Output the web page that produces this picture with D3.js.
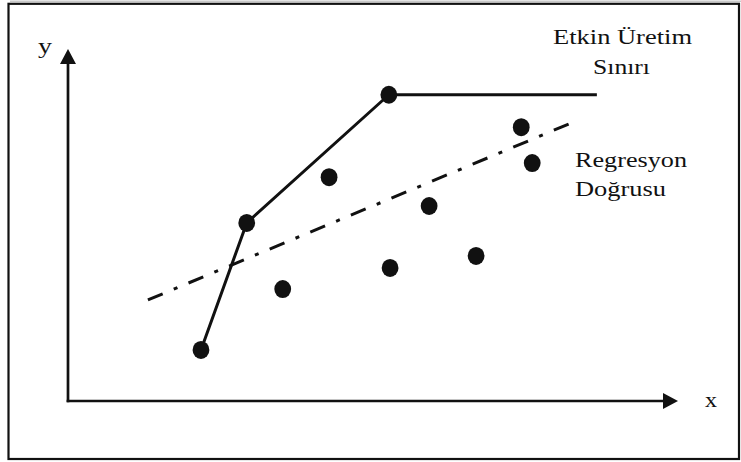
<!DOCTYPE html>
<html>
<head>
<meta charset="utf-8">
<script src="https://cdn.jsdelivr.net/npm/d3@7"></script>
<style>
  html, body { margin: 0; padding: 0; background: #fff; }
  svg { display: block; }
</style>
</head>
<body>
<svg id="chart" width="741" height="462"></svg>
<script>
// ---- data (abstract units, axes have no ticks) ----
const frontierX = [21.8, 29.3, 52.6, 86.7];
const frontierY = [14.5, 50.6, 87.0, 87.0];
const dotX = [21.8, 29.3, 52.6, 35.2, 42.8, 52.8, 59.2, 66.9, 74.3, 76.1];
const dotY = [14.5, 50.6, 87.0, 31.8, 63.6, 37.8, 55.4, 41.2, 77.8, 67.6];
const regressionX = [13.1, 82.1];
const regressionY = [28.7, 78.7];
const frontierLabel = ["Etkin Üretim", "Sınırı"];
const regressionLabel = ["Regresyon", "Doğrusu"];
const xAxisLabel = "x";
const yAxisLabel = "y";

// ---- layout ----
const svg = d3.select("#chart");
const x = d3.scaleLinear().domain([0, 100]).range([68, 678]);
const y = d3.scaleLinear().domain([0, 100]).range([401, 49]);
const serif = "'Liberation Serif', 'Times New Roman', serif";

svg.append("line").attr("x1", 10).attr("x2", 741).attr("y1", 1.2).attr("y2", 1.2)
  .attr("stroke", "#c8c8c8").attr("stroke-width", 1.5);
svg.append("rect").attr("x", 8.5).attr("y", 3.8).attr("width", 730.5).attr("height", 455.2)
  .attr("fill", "none").attr("stroke", "#111").attr("stroke-width", 2.2);

const axW = 2.7;
const gx = svg.append("g").attr("transform", `translate(0,${y(0)})`)
  .call(d3.axisBottom(x).tickValues([]).tickSizeOuter(0));
const gy = svg.append("g").attr("transform", `translate(${x(0)},0)`)
  .call(d3.axisLeft(y).tickValues([]).tickSizeOuter(0));
[gx, gy].forEach(g => g.select(".domain").attr("stroke", "#111").attr("stroke-width", axW));
gx.select(".domain").attr("d", `M${x(0) - axW/2},0H${x(100) - 6}`);
gy.select(".domain").attr("d", `M0,${y(0) + axW/2}V${y(100) + 6}`);

const ah = 15, aw = 8;
svg.append("path")
  .attr("d", `M${x(100)},${y(0)}L${x(100) - ah},${y(0) - aw}L${x(100) - ah},${y(0) + aw}Z`)
  .attr("fill", "#111");
svg.append("path")
  .attr("d", `M${x(0)},${y(100)}L${x(0) - aw},${y(100) + ah}L${x(0) + aw},${y(100) + ah}Z`)
  .attr("fill", "#111");

const line = d3.line().x(d => x(d[0])).y(d => y(d[1]));
svg.append("path")
  .datum(d3.zip(regressionX, regressionY))
  .attr("d", line)
  .attr("fill", "none").attr("stroke", "#111").attr("stroke-width", 3)
  .attr("stroke-dasharray", "16,12,4,12");

svg.append("path")
  .datum(d3.zip(frontierX, frontierY))
  .attr("d", line)
  .attr("fill", "none").attr("stroke", "#111").attr("stroke-width", 3)
  .attr("stroke-linejoin", "round");

svg.append("g").selectAll("ellipse")
  .data(d3.zip(dotX, dotY))
  .join("ellipse")
  .attr("cx", d => x(d[0])).attr("cy", d => y(d[1]))
  .attr("rx", 8.4).attr("ry", 9.0)
  .attr("fill", "#111");

function label(txt, xPos, baseline, width) {
  svg.append("text")
    .attr("x", xPos).attr("y", baseline)
    .attr("font-family", serif)
    .attr("font-size", 22)
    .attr("fill", "#111")
    .attr("textLength", width)
    .attr("lengthAdjust", "spacingAndGlyphs")
    .text(txt);
}
label(frontierLabel[0], 553, 44, 139);
label(frontierLabel[1], 593, 74, 57);
label(regressionLabel[0], 575, 167, 112);
label(regressionLabel[1], 575, 196, 91);
label(yAxisLabel, 38, 53, 14);
label(xAxisLabel, 705, 407, 12);
</script>
</body>
</html>
